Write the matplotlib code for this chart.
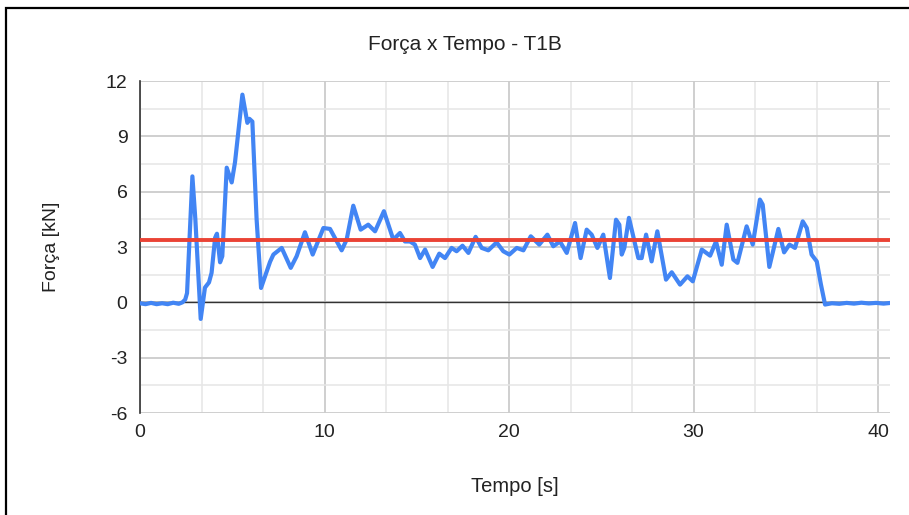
import matplotlib.pyplot as plt
from matplotlib.patches import Rectangle
from matplotlib.ticker import MultipleLocator

plt.rcParams['font.family'] = ['Liberation Sans', 'DejaVu Sans']
plt.rcParams['axes.unicode_minus'] = False

# ensaio T1B: tempo [s] e força [kN]
tempo = [0.0, 0.3, 0.6, 0.9, 1.2, 1.5, 1.8, 2.1, 2.3, 2.45, 2.55, 2.84, 3.0, 3.29,
         3.52, 3.74, 3.88, 4.07, 4.17, 4.34, 4.46, 4.70, 4.97, 5.15, 5.55, 5.82,
         5.93, 6.09, 6.32, 6.56, 7.05, 7.23, 7.68, 8.17, 8.49, 8.94, 9.36, 9.94,
         10.3, 10.93, 11.2, 11.56, 11.96, 12.37, 12.74, 13.22, 13.73, 14.09, 14.36,
         14.63, 14.9, 15.18, 15.45, 15.86, 16.22, 16.53, 16.89, 17.16, 17.48, 17.8,
         18.19, 18.52, 18.88, 19.33, 19.69, 20.02, 20.42, 20.78, 21.18, 21.64, 22.08,
         22.4, 22.76, 23.13, 23.58, 23.88, 24.21, 24.48, 24.79, 25.11, 25.47, 25.8,
         25.98, 26.11, 26.25, 26.5, 27.01, 27.19, 27.43, 27.73, 28.04, 28.51, 28.82,
         29.27, 29.67, 29.96, 30.45, 30.9, 31.22, 31.53, 31.8, 32.16, 32.38, 32.88,
         33.21, 33.6, 33.75, 34.11, 34.6, 34.91, 35.2, 35.5, 35.92, 36.14, 36.4,
         36.68, 36.9, 37.13, 37.5, 37.9, 38.3, 38.7, 39.1, 39.5, 39.9, 40.3, 40.6]
forca = [-0.05, -0.1, -0.03, -0.1, -0.05, -0.1, -0.02, -0.08, 0.0, 0.15, 0.5, 6.83, 4.5, -0.9,
         0.8, 1.08, 1.6, 3.5, 3.72, 2.17, 2.5, 7.3, 6.5, 7.6, 11.26, 9.73,
         9.95, 9.8, 4.5, 0.78, 2.2, 2.59, 2.95, 1.87, 2.5, 3.8, 2.59, 4.03,
         3.98, 2.82, 3.4, 5.24, 3.94, 4.21, 3.85, 4.94, 3.4, 3.76, 3.3,
         3.3, 3.13, 2.4, 2.86, 1.92, 2.64, 2.4, 2.95, 2.77, 3.07, 2.68,
         3.55, 2.95, 2.82, 3.25, 2.77, 2.59, 2.95, 2.82, 3.58, 3.13, 3.67,
         3.04, 3.3, 2.68, 4.3, 2.4, 3.94, 3.67, 2.95, 3.67, 1.32, 4.48,
         4.21, 2.59, 2.95, 4.58, 2.4, 2.4, 3.67, 2.22, 3.85, 1.23, 1.63,
         0.96, 1.41, 1.14, 2.86, 2.53, 3.3, 2.04, 4.21, 2.32, 2.14, 4.12,
         3.13, 5.57, 5.3, 1.92, 3.98, 2.71, 3.13, 2.95, 4.39, 4.03, 2.59,
         2.22, 1.0, -0.12, -0.05, -0.08, -0.03, -0.07, -0.02, -0.06, -0.03, -0.07, -0.04]

media = 3.4  # força média [kN]

fig = plt.figure(figsize=(9.09, 5.15), dpi=100)
ax = fig.add_axes([140 / 909, 1 - 413 / 515, 750 / 909, 332 / 515])

ax.set_xlim(0, 40.65)
ax.set_ylim(-6, 12)
ax.xaxis.set_major_locator(MultipleLocator(10))
ax.xaxis.set_minor_locator(MultipleLocator(10 / 3))
ax.yaxis.set_major_locator(MultipleLocator(3))
ax.yaxis.set_minor_locator(MultipleLocator(1.5))
ax.grid(which='major', color='#cccccc', linewidth=1.3)
ax.grid(which='minor', color='#e6e6e6', linewidth=1.1)
ax.set_axisbelow(True)

for s in ['top', 'right', 'bottom']:
    ax.spines[s].set_visible(False)
ax.spines['left'].set_color('#333333')
ax.spines['left'].set_linewidth(1.2)
ax.tick_params(which='both', length=0, labelsize=14, colors='#222222')
ax.tick_params(axis='y', pad=9)
ax.tick_params(axis='x', pad=8)

ax.axhline(0, color='#333333', linewidth=1.0, zorder=2)
ax.plot(tempo, forca, color='#4285F4', linewidth=3.0, zorder=3)
ax.axhline(media, color='#EA4335', linewidth=2.8, zorder=4)

ax.set_xlabel('Tempo [s]', fontsize=14.5, color='#222222', labelpad=26)
ax.set_ylabel('Força [kN]', fontsize=14, color='#222222', labelpad=33)
fig.text(465 / 909, 1 - 45 / 515, 'Força x Tempo - T1B', ha='center', va='center',
         fontsize=15, color='#222222')

# moldura da figura
fig.patches.append(Rectangle((6 / 909, -0.1), 1.2, 1 - 8 / 515 + 0.1,
                             transform=fig.transFigure, fill=False,
                             edgecolor='black', linewidth=1.6))

fig.savefig('out.png', dpi=100)
